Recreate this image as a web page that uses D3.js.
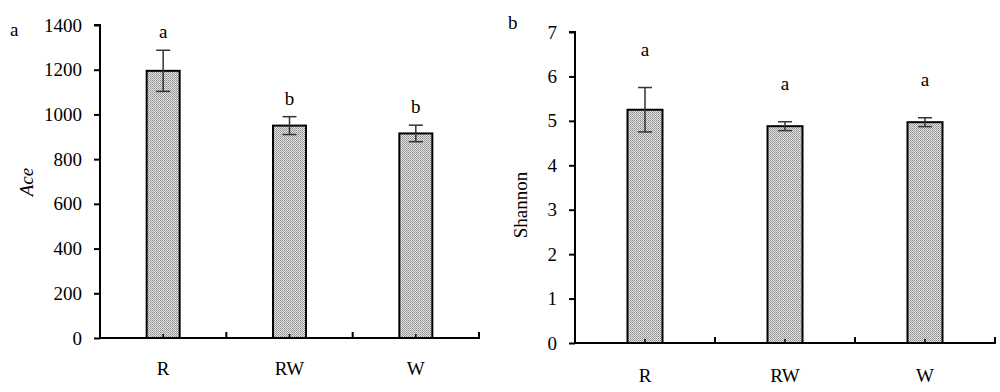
<!DOCTYPE html>
<html><head><meta charset="utf-8">
<script src="https://cdn.jsdelivr.net/npm/d3@7"></script>
<style>body{margin:0;background:#fff;}svg{display:block;}svg text{font-family:"Liberation Serif","Times New Roman",serif !important;}</style>
</head><body>
<script>
const categories = ["R","RW","W"];
const aceMeans = [1195, 950, 915];
const aceErrors = [92, 40, 37];
const aceLetters = ["a","b","b"];
const aceTicks = [0,200,400,600,800,1000,1200,1400];
const shannonMeans = [5.25, 4.88, 4.97];
const shannonErrors = [0.5, 0.1, 0.1];
const shannonLetters = ["a","a","a"];
const shannonTicks = [0,1,2,3,4,5,6,7];

const svg = d3.select("body").append("svg").attr("width",1000).attr("height",392);
const defs = svg.append("defs");
const pat = defs.append("pattern").attr("id","dots").attr("patternUnits","userSpaceOnUse").attr("width",2).attr("height",2);
pat.append("rect").attr("width",2).attr("height",2).attr("fill","#e2e2e2");
pat.append("rect").attr("x",0).attr("y",0).attr("width",1).attr("height",1).attr("fill","#8e8e8e");
pat.append("rect").attr("x",1).attr("y",1).attr("width",1).attr("height",1).attr("fill","#a2a2a2");

function panel(o){
  const g = svg.append("g");
  const x = d3.scaleBand().domain(categories).range([o.x0,o.x1]);
  const y = d3.scaleLinear().domain([0,o.max]).range([o.y0,o.y1]);
  const bw = o.barW;
  g.selectAll("rect.bar").data(o.means).enter().append("rect")
    .attr("x",(d,i)=>x(categories[i])+x.bandwidth()/2-bw/2)
    .attr("y",d=>y(d)).attr("width",bw).attr("height",d=>y(0)-y(d))
    .attr("fill","url(#dots)").attr("stroke","#000").attr("stroke-width",2);
  o.means.forEach((m,i)=>{
    const cx = x(categories[i])+x.bandwidth()/2;
    const e = o.errs[i];
    g.append("line").attr("x1",cx).attr("x2",cx).attr("y1",y(m+e)).attr("y2",y(m-e)).attr("stroke","#333").attr("stroke-width",1.5);
    [m+e,m-e].forEach(v=>g.append("line").attr("x1",cx-7).attr("x2",cx+7).attr("y1",y(v)).attr("y2",y(v)).attr("stroke","#333").attr("stroke-width",1.5));
    g.append("text").attr("x",cx).attr("y",y(m+e)-o.letterGap).attr("text-anchor","middle").attr("font-size",19).text(o.letters[i]);
  });
  const ya = d3.axisLeft(y).tickValues(o.ticks).tickFormat(d3.format("d")).tickSize(6).tickPadding(o.tickPad);
  const yg = g.append("g").attr("transform",`translate(${o.x0},0)`).call(ya);
  yg.attr("font-family",null).attr("font-size",null);
  yg.select(".domain").attr("stroke-width",2).attr("d",`M-6,${o.y1}H0V${o.y0}`);
  yg.selectAll(".tick line").attr("stroke-width",2);
  yg.selectAll(".tick text").attr("font-size",19).attr("fill","#000");
  const xl = g.append("g");
  xl.append("line").attr("x1",o.x0-1).attr("x2",o.x1+1).attr("y1",y(0)).attr("y2",y(0)).attr("stroke","#000").attr("stroke-width",2);
  categories.forEach((c,i)=>{
    const bx = x(c)+x.bandwidth();
    xl.append("line").attr("x1",bx).attr("x2",bx).attr("y1",y(0)).attr("y2",y(0)-6).attr("stroke","#000").attr("stroke-width",2);
    const cx = x(c)+x.bandwidth()/2;
    xl.append("line").attr("x1",cx).attr("x2",cx).attr("y1",y(0)).attr("y2",y(0)-4).attr("stroke","#000").attr("stroke-width",1.5);
    xl.append("text").attr("x",cx).attr("y",o.xLabelY).attr("text-anchor","middle").attr("font-size",19).text(c);
  });
  g.append("text").attr("transform",`translate(${o.titleX},${o.titleY}) rotate(-90)`).attr("text-anchor","middle")
    .attr("font-size",19).attr("font-style",o.italic?"italic":"normal").text(o.title);
  g.append("text").attr("x",o.panelX).attr("y",o.panelY).attr("font-size",19).text(o.panel);
}

panel({x0:100,x1:479,y0:338,y1:25,max:1400,means:aceMeans,errs:aceErrors,letters:aceLetters,ticks:aceTicks,
  barW:33,letterGap:12,tickPad:12,xLabelY:375,title:"Ace",italic:true,titleX:33,titleY:182,panel:"a",panelX:10,panelY:36});
panel({x0:575,x1:995,y0:343,y1:32,max:7,means:shannonMeans,errs:shannonErrors,letters:shannonLetters,ticks:shannonTicks,
  barW:35,letterGap:32,tickPad:12,xLabelY:382,title:"Shannon",italic:false,titleX:527,titleY:205,panel:"b",panelX:508,panelY:29});
</script>
</body></html>
